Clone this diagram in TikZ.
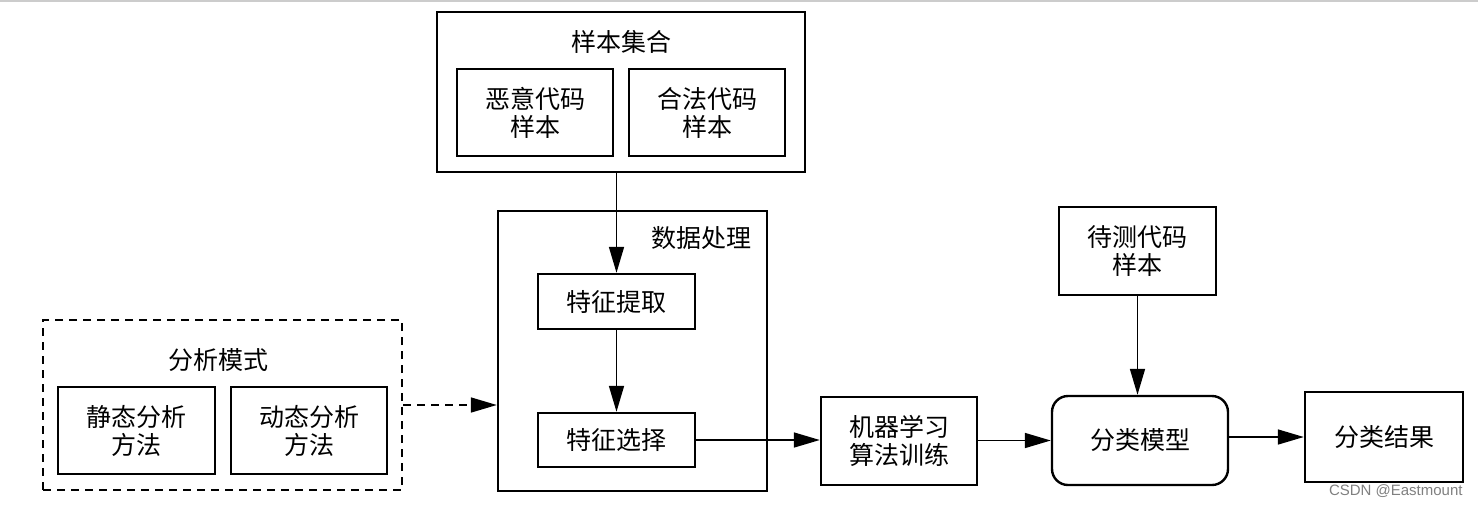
\documentclass[tikz,border=0pt]{standalone}
\usepackage{fontspec}
\newfontfamily\cjk{Noto Sans CJK SC}
\setsansfont{Liberation Sans}
\usetikzlibrary{arrows.meta}
\begin{document}
\begin{tikzpicture}[x=0.5pt,y=-0.5pt,
  every node/.style={font=\cjk\fontsize{12.5}{14}\selectfont, inner sep=0pt, align=center},
  box/.style={draw, line width=1.2pt},
  dbox/.style={draw, line width=1.2pt, dash pattern=on 4pt off 3pt},
  conn/.style={line width=0.8pt, -{Triangle[length=13pt,width=7.5pt]}},
  dconn/.style={conn, dash pattern=on 4pt off 3pt},
  lbl/.style={}
]
\useasboundingbox (0,0) rectangle (1478,505);
\draw[gray!40, line width=0.8pt] (0,1) -- (1478,1);

% sample set
\node[box, minimum width=184pt, minimum height=80pt] (sample) at (621,92) {};
\node[lbl] (sampleT) at (621,42) {样本集合};
\node[box, minimum width=78pt, minimum height=43.5pt] (mal) at (535,112.5) {恶意代码\\样本};
\node[box, minimum width=78pt, minimum height=43.5pt] (leg) at (707,112.5) {合法代码\\样本};

% data processing
\node[box, minimum width=134.5pt, minimum height=140pt] (dp) at (632.5,351) {};
\node[lbl] (dpT) at (701,238) {数据处理};
\node[box, minimum width=78.5pt, minimum height=27.5pt] (fe) at (616.5,301.5) {特征提取};
\node[box, minimum width=78.5pt, minimum height=27pt] (fs) at (616.5,440) {特征选择};

% analysis mode
\node[dbox, minimum width=179.5pt, minimum height=85pt] (am) at (222.5,405) {};
\node[lbl] (amT) at (218,360) {分析模式};
\node[box, minimum width=78.5pt, minimum height=43.5pt] (st) at (136.5,430.5) {静态分析\\方法};
\node[box, minimum width=78pt, minimum height=43.5pt] (dy) at (309,430.5) {动态分析\\方法};

% right part
\node[box, minimum width=78pt, minimum height=44pt] (ml) at (899,441) {机器学习\\算法训练};
\node[box, minimum width=78.5pt, minimum height=44pt] (test) at (1137.5,251) {待测代码\\样本};
\node[box, rounded corners=8pt, minimum width=88pt, minimum height=44.5pt] (cm) at (1140,440.5) {分类模型};
\node[box, minimum width=79pt, minimum height=45pt] (res) at (1384,437) {分类结果};

\node[font=\sffamily\fontsize{7.5}{9}\selectfont, text=gray, anchor=east] (wm) at (1463,491) {CSDN @Eastmount};

% connectors
\draw[conn] (fe.north |- sample.south) -- (fe.north);
\draw[conn] (fe.south) -- (fs.north);
\draw[conn] (fs.east) -- (fs.east -| ml.west);
\draw[conn] (ml.east |- cm.west) -- (cm.west);
\draw[conn] (test.south) -- (test.south |- cm.north);
\draw[conn] (cm.east |- res.west) -- (res.west);
\draw[dconn] (am.east) -- (am.east -| dp.west);
\end{tikzpicture}
\end{document}
